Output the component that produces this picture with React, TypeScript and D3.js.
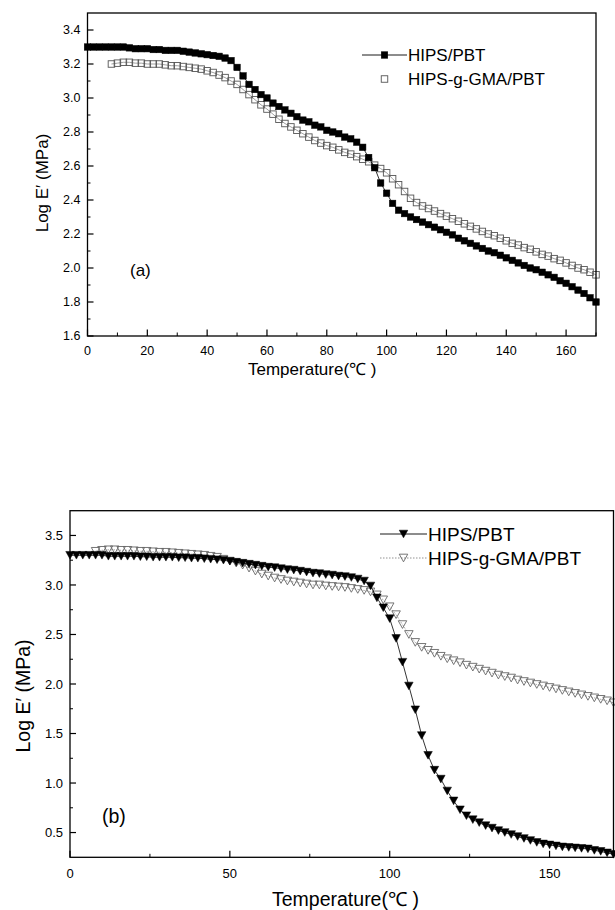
import React from "react";
import * as d3 from "d3";

// panel (a): HIPS/PBT (filled squares) and HIPS-g-GMA/PBT (open squares)
const aTempBlend = [
  0, 2, 4, 6, 8, 10, 12, 14, 16, 18, 20, 22, 24, 26, 28, 30, 32, 34, 36, 38, 40, 42, 44, 46, 48, 50,
  52, 54, 56, 58, 60, 62, 64, 66, 68, 70, 72, 74, 76, 78, 80, 82, 84, 86, 88, 90, 92, 94, 96, 98, 100,
  102, 104, 106, 108, 110, 112, 114, 116, 118, 120, 122, 124, 126, 128, 130, 132, 134, 136, 138, 140,
  142, 144, 146, 148, 150, 152, 154, 156, 158, 160, 162, 164, 166, 168, 170,
];
const aLogBlend = [
  3.3, 3.3, 3.3, 3.3, 3.3, 3.3, 3.3, 3.295, 3.29, 3.29, 3.29, 3.285, 3.285, 3.28, 3.28, 3.28, 3.275,
  3.27, 3.265, 3.26, 3.255, 3.25, 3.245, 3.235, 3.22, 3.18, 3.13, 3.08, 3.05, 3.02, 3.0, 2.97, 2.95,
  2.93, 2.91, 2.89, 2.87, 2.86, 2.84, 2.83, 2.81, 2.8, 2.79, 2.77, 2.76, 2.74, 2.71, 2.65, 2.59, 2.5,
  2.44, 2.38, 2.34, 2.32, 2.3, 2.285, 2.27, 2.255, 2.24, 2.225, 2.21, 2.195, 2.175, 2.16, 2.145, 2.13,
  2.115, 2.1, 2.09, 2.075, 2.06, 2.045, 2.03, 2.015, 2.0, 1.99, 1.975, 1.96, 1.945, 1.925, 1.91, 1.89,
  1.87, 1.85, 1.825, 1.8,
];
const aTempGraft = [
  8, 10, 12, 14, 16, 18, 20, 22, 24, 26, 28, 30, 32, 34, 36, 38, 40, 42, 44, 46, 48, 50, 52, 54, 56,
  58, 60, 62, 64, 66, 68, 70, 72, 74, 76, 78, 80, 82, 84, 86, 88, 90, 92, 94, 96, 98, 100, 102, 104,
  106, 108, 110, 112, 114, 116, 118, 120, 122, 124, 126, 128, 130, 132, 134, 136, 138, 140, 142, 144,
  146, 148, 150, 152, 154, 156, 158, 160, 162, 164, 166, 168, 170,
];
const aLogGraft = [
  3.2, 3.205, 3.21, 3.21, 3.205, 3.205, 3.2, 3.2, 3.2, 3.195, 3.19, 3.19, 3.185, 3.18, 3.175, 3.17,
  3.16, 3.15, 3.135, 3.12, 3.1, 3.08, 3.05, 3.02, 2.99, 2.96, 2.935, 2.905, 2.875, 2.85, 2.83, 2.81,
  2.79, 2.77, 2.75, 2.735, 2.72, 2.71, 2.695, 2.68, 2.67, 2.655, 2.64, 2.625, 2.605, 2.585, 2.56, 2.525,
  2.49, 2.45, 2.41, 2.385, 2.365, 2.35, 2.335, 2.32, 2.305, 2.29, 2.275, 2.26, 2.245, 2.23, 2.215,
  2.2, 2.19, 2.175, 2.16, 2.145, 2.135, 2.12, 2.11, 2.095, 2.08, 2.07, 2.055, 2.045, 2.03, 2.015, 2.0,
  1.99, 1.975, 1.96,
];

// panel (b): HIPS/PBT (filled triangles) and HIPS-g-GMA/PBT (open triangles)
const bTempBlend = aTempBlend;
const bLogBlend = [
  3.3, 3.3, 3.3, 3.3, 3.3, 3.3, 3.29, 3.29, 3.29, 3.29, 3.29, 3.285, 3.285, 3.28, 3.28, 3.28, 3.28,
  3.275, 3.275, 3.27, 3.27, 3.265, 3.26, 3.255, 3.25, 3.24, 3.23, 3.22, 3.21, 3.2, 3.19, 3.18, 3.175,
  3.165, 3.155, 3.15, 3.14, 3.13, 3.12, 3.115, 3.105, 3.1, 3.09, 3.085, 3.075, 3.06, 3.04, 2.99, 2.87,
  2.77, 2.66, 2.46, 2.22, 1.98, 1.74, 1.48, 1.28, 1.13, 1.04, 0.92, 0.82, 0.73, 0.67, 0.63, 0.6, 0.57,
  0.545, 0.52, 0.5, 0.48, 0.46, 0.44, 0.42, 0.4, 0.385, 0.375, 0.365, 0.355, 0.35, 0.345, 0.34, 0.335,
  0.32, 0.31, 0.295, 0.28,
];
const bTempGraft = aTempGraft;
const bLogGraft = [
  3.34, 3.35, 3.355, 3.355, 3.35, 3.35, 3.345, 3.34, 3.34, 3.335, 3.33, 3.33, 3.325, 3.32, 3.315,
  3.31, 3.305, 3.3, 3.29, 3.28, 3.26, 3.24, 3.22, 3.2, 3.17, 3.14, 3.11, 3.09, 3.07, 3.055, 3.04, 3.03,
  3.02, 3.01, 3.0, 3.0, 2.99, 2.985, 2.98, 2.975, 2.965, 2.955, 2.945, 2.93, 2.9, 2.85, 2.78, 2.7, 2.6,
  2.5, 2.42, 2.37, 2.34, 2.31, 2.28, 2.255, 2.235, 2.215, 2.19, 2.17, 2.15, 2.13, 2.11, 2.09, 2.075,
  2.06, 2.04, 2.025, 2.01, 1.995, 1.98, 1.965, 1.95, 1.935, 1.92, 1.905, 1.89, 1.875, 1.86, 1.845,
  1.83, 1.81,
];

const seriesNames = ["HIPS/PBT", "HIPS-g-GMA/PBT"];
const aYTicks = [1.6, 1.8, 2.0, 2.2, 2.4, 2.6, 2.8, 3.0, 3.2, 3.4];
const aXTicks = [0, 20, 40, 60, 80, 100, 120, 140, 160];
const bYTicks = [0.5, 1.0, 1.5, 2.0, 2.5, 3.0, 3.5];
const bXTicks = [0, 50, 100, 150];

const FONT = "'Liberation Sans', Arial, Helvetica, sans-serif";

const zip = (t: number[], v: number[]) => t.map((x, i) => ({ x, y: v[i] }));

function Square({ x, y, s, filled }: any) {
  return (
    <rect
      x={x - s / 2}
      y={y - s / 2}
      width={s}
      height={s}
      fill={filled ? "#000" : "none"}
      stroke={filled ? "#000" : "#555"}
      strokeWidth={filled ? 0.5 : 0.9}
    />
  );
}

function Tri({ x, y, s, filled }: any) {
  const h = s * 0.9;
  const d = `M${x - s / 2},${y - h / 2}L${x + s / 2},${y - h / 2}L${x},${y + h / 2}Z`;
  return (
    <path d={d} fill={filled ? "#000" : "none"} stroke={filled ? "#000" : "#666"} strokeWidth={filled ? 0.5 : 0.9} />
  );
}

function Panel(props: any) {
  const {
    left, right, top, bottom, xDomain, yDomain, xTicks, xMinor, yTicks, yMinor, yFmt,
    blend, graft, Marker, mSize, tickFont, titleFont, xTitle, yTitle, tag, legend, graftDashed,
  } = props;
  const x = d3.scaleLinear().domain(xDomain).range([left, right]);
  const y = d3.scaleLinear().domain(yDomain).range([bottom, top]);
  const line = d3.line<any>().x((d) => x(d.x)).y((d) => y(d.y));

  return (
    <g fontFamily={FONT}>
      {/* data */}
      <path d={line(graft) || ""} fill="none" stroke="#777" strokeWidth={0.7} strokeDasharray={graftDashed ? "1.5,1.5" : undefined} />
      {graft.map((d: any, i: number) => (
        <Marker key={"g" + i} x={x(d.x)} y={y(d.y)} s={mSize} filled={false} />
      ))}
      <path d={line(blend) || ""} fill="none" stroke="#000" strokeWidth={0.8} />
      {blend.map((d: any, i: number) => (
        <Marker key={"b" + i} x={x(d.x)} y={y(d.y)} s={mSize} filled={true} />
      ))}

      {/* frame */}
      <rect x={left} y={top} width={right - left} height={bottom - top} fill="none" stroke="#000" strokeWidth={1.3} />

      {/* y ticks */}
      {yMinor.map((t: number) => (
        <line key={"ym" + t} x1={left} x2={left + 3} y1={y(t)} y2={y(t)} stroke="#000" strokeWidth={1} />
      ))}
      {yTicks.map((t: number) => (
        <g key={"y" + t}>
          <line x1={left} x2={left + 6} y1={y(t)} y2={y(t)} stroke="#000" strokeWidth={1.2} />
          <text x={left - 7} y={y(t)} dy="0.35em" textAnchor="end" fontSize={tickFont}>
            {d3.format(yFmt)(t)}
          </text>
        </g>
      ))}

      {/* x ticks */}
      {xMinor.map((t: number) => (
        <line key={"xm" + t} x1={x(t)} x2={x(t)} y1={bottom} y2={bottom - 3.5} stroke="#000" strokeWidth={1} />
      ))}
      {xTicks.map((t: number) => (
        <g key={"x" + t}>
          <line x1={x(t)} x2={x(t)} y1={bottom} y2={bottom - 6.5} stroke="#000" strokeWidth={1.2} />
          <text x={x(t)} y={bottom + props.xLabelDy} textAnchor="middle" fontSize={tickFont}>
            {t}
          </text>
        </g>
      ))}

      {/* titles */}
      <text x={xTitle.x} y={xTitle.y} fontSize={titleFont}>
        Temperature(℃ )
      </text>
      <text transform={`translate(${yTitle.x},${yTitle.y}) rotate(-90)`} textAnchor="middle" fontSize={titleFont}>
        {"Log E\u2032  (MPa)"}
      </text>
      <text x={tag.x} y={tag.y} fontSize={titleFont}>
        {tag.text}
      </text>

      {/* legend */}
      {seriesNames.map((name, i) => {
        const ly = legend.y + i * legend.dy;
        const filled = i === 0;
        const showLine = i === 0 || graftDashed;
        return (
          <g key={name}>
            {showLine && (
              <line
                x1={legend.x}
                x2={legend.x + legend.w}
                y1={ly}
                y2={ly}
                stroke={filled ? "#000" : "#777"}
                strokeWidth={filled ? 0.9 : 0.8}
                strokeDasharray={filled ? undefined : "1.5,1.5"}
              />
            )}
            <Marker x={legend.x + legend.w / 2} y={ly} s={mSize} filled={filled} />
            <text x={legend.x + legend.w + 1} y={ly} dy="0.35em" fontSize={legend.font}>
              {name}
            </text>
          </g>
        );
      })}
    </g>
  );
}

export default function App() {
  const aBlend = zip(aTempBlend, aLogBlend);
  const aGraft = zip(aTempGraft, aLogGraft);
  const bBlend = zip(bTempBlend, bLogBlend);
  const bGraft = zip(bTempGraft, bLogGraft);

  return (
    <svg width={615} height={910} style={{ position: "absolute", left: 0, top: 0, background: "#fff" }}>
      <rect x={0} y={0} width={615} height={910} fill="#fff" />
      <Panel
        left={87.5}
        right={596}
        top={13}
        bottom={336}
        xDomain={[0, 170]}
        yDomain={[1.6, 3.5]}
        xTicks={aXTicks}
        xMinor={d3.range(10, 171, 20)}
        yTicks={aYTicks}
        yMinor={d3.range(1.7, 3.5, 0.2)}
        yFmt=".1f"
        blend={aBlend}
        graft={aGraft}
        Marker={Square}
        mSize={6.5}
        tickFont={12.5}
        titleFont={17}
        xLabelDy={19}
        xTitle={{ x: 248, y: 375 }}
        yTitle={{ x: 48, y: 183 }}
        tag={{ x: 130, y: 276, text: "(a)" }}
        legend={{ x: 362, y: 55, dy: 24, w: 45, font: 17 }}
        graftDashed={false}
      />
      <Panel
        left={70}
        right={613.5}
        top={510.7}
        bottom={857.3}
        xDomain={[0, 170]}
        yDomain={[0.25, 3.75]}
        xTicks={bXTicks}
        xMinor={[25, 75, 125]}
        yTicks={bYTicks}
        yMinor={d3.range(0.75, 3.75, 0.5)}
        yFmt=".1f"
        blend={bBlend}
        graft={bGraft}
        Marker={Tri}
        mSize={8.5}
        tickFont={13}
        titleFont={19.5}
        xLabelDy={21}
        xTitle={{ x: 272, y: 906 }}
        yTitle={{ x: 30, y: 696 }}
        tag={{ x: 102, y: 823, text: "(b)" }}
        legend={{ x: 380, y: 534, dy: 24, w: 47, font: 19 }}
        graftDashed={true}
      />
    </svg>
  );
}
